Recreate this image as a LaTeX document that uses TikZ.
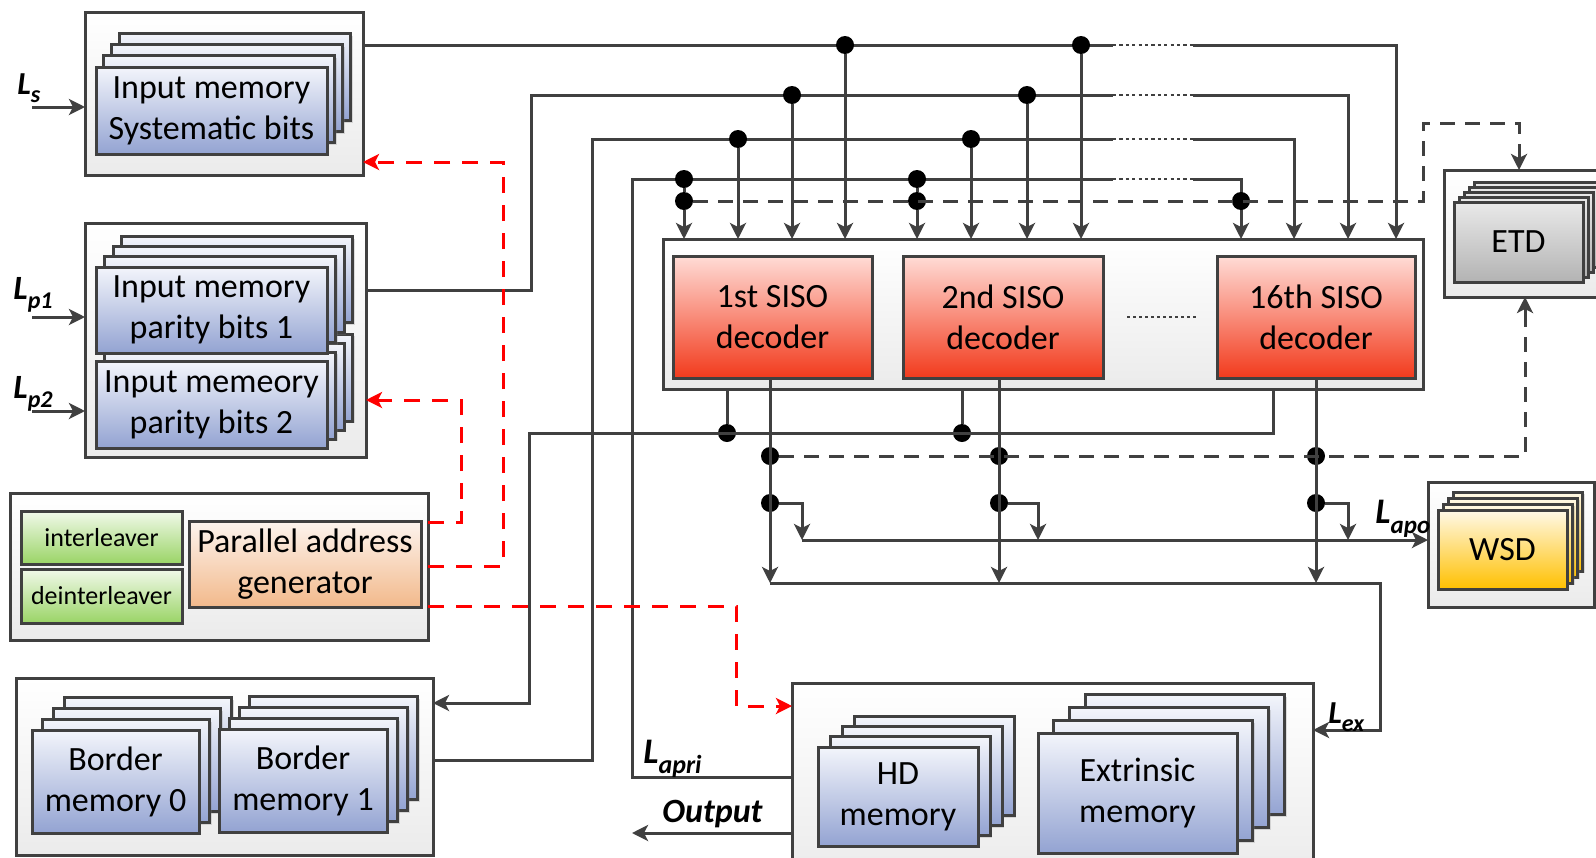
\documentclass[tikz,border=0pt]{standalone}
\usepackage{fontspec}
\setmainfont{Carlito}
\usetikzlibrary{arrows.meta,shadows,calc}

\definecolor{lc}{HTML}{404040}
\definecolor{contbot}{HTML}{EBEBEB}
\definecolor{memtop}{HTML}{F3F5FB}
\definecolor{membot}{HTML}{93A3D2}
\definecolor{redtop}{HTML}{FFDCD6}
\definecolor{redbot}{HTML}{F23A1C}
\definecolor{grntop}{HTML}{F1F9EA}
\definecolor{grnbot}{HTML}{9AD466}
\definecolor{orgtop}{HTML}{FDF4EE}
\definecolor{orgbot}{HTML}{F2B98B}
\definecolor{yeltop}{HTML}{FFF9E8}
\definecolor{yelbot}{HTML}{FFC000}
\definecolor{gytop}{HTML}{E9E9E9}
\definecolor{gybot}{HTML}{B3B3B3}

\newcommand\mainfs{\fontsize{17}{20.5}\selectfont}
\newcommand\smallfs{\fontsize{13}{15}\selectfont}
% L with a subscript, bold italic: size of L, size of subscript, subscript
\newcommand\lsym[3]{{\fontsize{#1}{#1}\selectfont\bfseries\itshape L\raisebox{-0.28em}{\fontsize{#2}{#2}\selectfont #3}}}

% box from (x1,y1) to (x2,y2) in pixel units
\newcommand\boxat[7]{\node[#2, minimum width={(#5-#3)*0.5pt}, minimum height={(#6-#4)*0.5pt}] (#1) at ({(#3+#5)/2},{(#4+#6)/2}) {#7};}
% stacked copies behind a box: count, style, x1, y1, x2, y2, dx, dy
\newcommand\backlayers[8]{\foreach \i in {#1,...,1}{\path[#2] ({#3+\i*#7},{#4-\i*#8}) rectangle ({#5+\i*#7},{#6-\i*#8});}}

\tikzset{
  blk/.style={draw=lc, line width=1.5pt, inner sep=0pt, outer sep=0pt, align=center, font=\mainfs,
    drop shadow={shadow xshift=1.2pt, shadow yshift=-1.2pt, opacity=0.25}},
  cont/.style={blk, top color=white, bottom color=contbot},
  memf/.style={blk, top color=memtop, bottom color=membot},
  redf/.style={blk, top color=redtop, bottom color=redbot},
  grnf/.style={blk, top color=grntop, bottom color=grnbot},
  orgf/.style={blk, top color=orgtop, bottom color=orgbot},
  yelf/.style={blk, top color=yeltop, bottom color=yelbot},
  gyf/.style={blk, top color=gytop, bottom color=gybot},
  wire/.style={draw=lc, line width=1.5pt},
  arr/.style={wire, -{Stealth[length=8pt,width=8pt,inset=2pt]}},
  dashw/.style={wire, dash pattern=on 7.5pt off 5pt},
  redarr/.style={draw=red, line width=1.5pt, dash pattern=on 8pt off 6pt,
    -{Stealth[length=8pt,width=8pt,inset=2pt]}},
  jdot/.style={circle, fill=black, inner sep=0pt, minimum size=9pt},
  lab/.style={inner sep=0pt, anchor=base west},
  gapwhite/.style={draw=white, line width=3pt},
  gapdots/.style={draw=lc, line width=1.1pt, dash pattern=on 1.6pt off 1.6pt},
}

\begin{document}
\begin{tikzpicture}[x=0.5pt,y=-0.5pt]
\useasboundingbox (0,0) rectangle (1596,857);
\clip (0,0) rectangle (1596,857);
\fill[white] (0,0) rectangle (1596,857);

% ---- input memories ----
\boxat{ls}{cont}{85}{12}{363}{175}{}
\backlayers{3}{memf}{96}{67}{327}{154}{7.7}{11.3}
\boxat{lsm}{memf}{96}{67}{327}{154}{Input memory\\Systematic bits}

\boxat{lp}{cont}{85}{223}{366}{457}{}
\backlayers{3}{memf}{96}{361}{327}{448}{8.5}{9}
\backlayers{3}{memf}{96}{267}{327}{353}{8.5}{10.3}
\boxat{lp1m}{memf}{96}{267}{327}{353}{Input memory\\parity bits 1}
\boxat{lp2m}{memf}{96}{361}{327}{448}{Input memeory\\parity bits 2}

% ---- address generation ----
\boxat{ag}{cont}{10}{493}{428}{640}{}
\boxat{il}{grnf}{21}{511}{182}{564}{\smallfs interleaver}
\boxat{dil}{grnf}{21}{569}{182}{623}{\smallfs deinterleaver}
\boxat{pag}{orgf}{189}{521}{421}{607}{Parallel address\\generator}

% ---- border memories ----
\boxat{bm}{cont}{16}{678}{433}{855}{}
\backlayers{3}{memf}{32}{730}{199}{833}{10.7}{10.7}
\boxat{bm0}{memf}{32}{730}{199}{833}{Border\\memory 0}
\backlayers{3}{memf}{219}{729}{387}{832}{10.3}{10.7}
\boxat{bm1}{memf}{219}{729}{387}{832}{Border\\memory 1}

% ---- SISO decoders ----
\boxat{siso}{cont}{663}{239}{1423}{389}{}
\boxat{s1}{redf}{673}{256}{872}{378}{1st SISO\\decoder}
\boxat{s2}{redf}{903}{256}{1103}{378}{2nd SISO\\decoder}
\boxat{s16}{redf}{1217}{256}{1415}{378}{16th SISO\\decoder}
\draw[draw=lc, line width=1pt, dash pattern=on 1.5pt off 1.5pt] ($(s2.east)+(24,0)$) -- ($(s16.west)+(-18,0)$);

% ---- ETD and WSD ----
\boxat{etd}{cont}{1444}{170}{1620}{297}{}
\backlayers{4}{gyf}{1454}{202}{1583}{282}{5}{5}
\boxat{etdm}{gyf}{1454}{202}{1583}{282}{ETD}

\boxat{wsd}{cont}{1428}{482}{1594}{607}{}
\backlayers{3}{yelf}{1438}{510}{1567}{589}{5.3}{6}
\boxat{wsdm}{yelf}{1438}{510}{1567}{589}{WSD}

% ---- HD and extrinsic memories ----
\boxat{mem}{cont}{792}{683}{1313}{880}{}
\backlayers{3}{memf}{818}{747}{978}{846}{12}{10.3}
\boxat{hd}{memf}{818}{747}{978}{846}{HD\\memory}
\backlayers{3}{memf}{1038}{733}{1237}{853}{15.7}{12.7}
\boxat{ext}{memf}{1038}{733}{1237}{853}{Extrinsic\\memory}

% ---- inputs ----
\coordinate (ins) at (32,107);
\coordinate (inp1) at (32,317);
\coordinate (inp2) at (32,411);
\draw[arr] (ins) -- (ls.west |- ins);
\draw[arr] (inp1) -- (lp.west |- inp1);
\draw[arr] (inp2) -- (lp.west |- inp2);

% ---- bus coordinates ----
\coordinate (ra) at (1396,45);
\coordinate (rb) at (1348,95);
\coordinate (rc) at (1294,139);
\coordinate (re) at (1241,179);
\coordinate (kb0) at (531,290);
\coordinate (kb) at (531,95);
\coordinate (kc0) at (592,760);
\coordinate (kc) at (592,139);
\coordinate (ke0) at (632,777);
\coordinate (ke) at (632,179);
\coordinate (q1) at (1423,123);
\coordinate (q2) at (1519,123);
\coordinate (gapL) at (1113,0);
\coordinate (gapR) at (1193,0);

% buses into the decoders
\draw[arr] (ls.east |- ra) -- (ra) -- (ra |- siso.north);
\draw[arr] (lp.east |- kb0) -- (kb0) -- (kb) -- (rb) -- (rb |- siso.north);
\draw[arr] (bm.east |- kc0) -- (kc0) -- (kc) -- (rc) -- (rc |- siso.north);
\draw[arr] (mem.west |- ke0) -- (ke0) -- (ke) -- (re) -- (re |- siso.north);

\foreach \c in {ra,rb,rc,re}{
  \draw[gapwhite] (gapL |- \c) -- (gapR |- \c);
  \draw[gapdots] (gapL |- \c) -- (gapR |- \c);
}

\node[jdot] (a1) at (845,45) {};
\node[jdot] (a2) at (1081,45) {};
\node[jdot] (b1) at (792,95) {};
\node[jdot] (b2) at (1027,95) {};
\node[jdot] (c1) at (738,139) {};
\node[jdot] (c2) at (971,139) {};
\node[jdot] (e1) at (684,179) {};
\node[jdot] (e2) at (917,179) {};
\node[jdot] (f1) at (684,201) {};
\node[jdot] (f2) at (917,201) {};
\node[jdot] (f3) at (1241,201) {};

\foreach \d in {a1,a2,b1,b2,c1,c2,f1,f2}{
  \draw[arr] (\d) -- (\d |- siso.north);
}
\draw[wire] (e1) -- (f1);
\draw[wire] (e2) -- (f2);

% dashed path to ETD
\draw[dashw] (f1) -- (q1 |- f1) -- (q1) -- (q2) -- ([yshift=9pt]q2 |- etd.north);
\draw[arr] ([yshift=9pt]q2 |- etd.north) -- (q2 |- etd.north);

% ---- decoder outputs ----
\node[jdot] (g1) at (727,433) {};
\node[jdot] (g2) at (962,433) {};
\coordinate (g3) at (1273,433);
\coordinate (g0) at (529,433);
\coordinate (g4) at (529,703);
\draw[arr] (g3 |- siso.south) -- (g3) -- (g0) -- (g4) -- (bm.east |- g4);
\draw[wire] (g1 |- siso.south) -- (g1);
\draw[wire] (g2 |- siso.south) -- (g2);

\coordinate (lowy) at (0,583);
\node[jdot] (h1) at (770,456) {};
\node[jdot] (h2) at (999,456) {};
\node[jdot] (h3) at (1316,456) {};
\node[jdot] (i1) at (770,503) {};
\node[jdot] (i2) at (999,503) {};
\node[jdot] (i3) at (1316,503) {};
\draw[arr] (h1 |- s1.south) -- (h1 |- lowy);
\draw[arr] (h2 |- s2.south) -- (h2 |- lowy);
\draw[arr] (h3 |- s16.south) -- (h3 |- lowy);

\coordinate (n1) at (802,540);
\coordinate (n2) at (1038,540);
\coordinate (n3) at (1348,540);
\draw[arr] (i1) -| (n1);
\draw[arr] (i2) -| (n2);
\draw[arr] (i3) -| (n3);
\draw[arr] (n1) -- (wsd.west |- n1);

\coordinate (o1) at (1380,583);
\coordinate (o2) at (1380,730);
\draw[arr] (h1 |- lowy) -- (o1) -- (o2) -- (mem.east |- o2);

\coordinate (p1) at (1525,456);
\draw[dashw] (h1) -- (p1) -- ([yshift=-9pt]p1 |- etd.south);
\draw[arr] ([yshift=-9pt]p1 |- etd.south) -- (p1 |- etd.south);

% output of the HD memory
\coordinate (outc) at (632,833);
\draw[arr] (mem.west |- outc) -- (outc);

% ---- address lines ----
\coordinate (ra1) at (461,522);
\coordinate (ra2) at (461,400);
\coordinate (rb1) at (503,566);
\coordinate (rb2) at (503,162);
\coordinate (rc1) at (736,606);
\coordinate (rc2) at (736,706);
\draw[redarr] (ag.east |- ra1) -- (ra1) -- (ra2) -- (lp.east |- ra2);
\draw[redarr] (ag.east |- rb1) -- (rb1) -- (rb2) -- (ls.east |- rb2);
\draw[redarr] (ag.east |- rc1) -- (rc1) -- (rc2) -- (mem.west |- rc2);

% ---- labels ----
\node[lab] (tls) at (17,94) {\lsym{16}{12}{s}};
\node[lab] (tlp1) at (13,299) {\lsym{17}{12}{p1}};
\node[lab] (tlp2) at (13,398) {\lsym{17}{12}{p2}};
\node[lab] (tlapri) at (643,763) {\lsym{18}{13}{apri}};
\node[lab] (tout) at (662,822) {\fontsize{17}{17}\selectfont\bfseries\itshape Output};
\node[lab] (tlapo) at (1375,523) {\lsym{18}{12.5}{apo}};
\node[lab] (tlex) at (1328,723) {\lsym{16}{12}{ex}};
\end{tikzpicture}
\end{document}
